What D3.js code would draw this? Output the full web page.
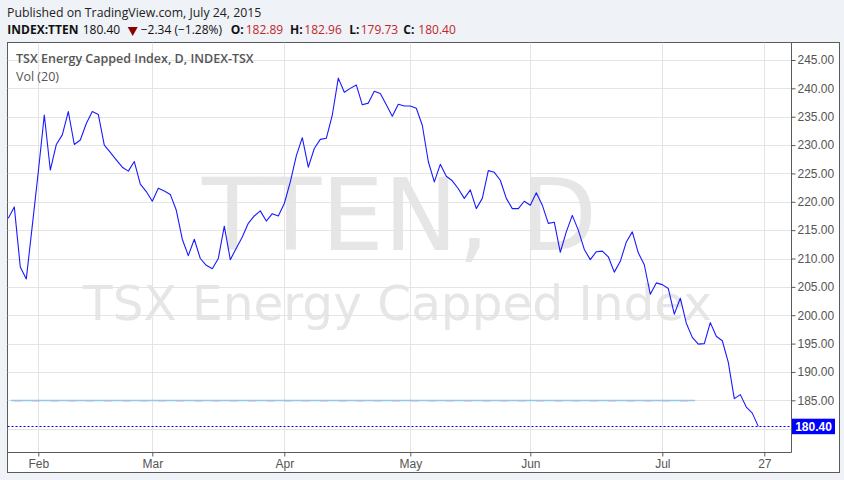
<!DOCTYPE html>
<html><head><meta charset="utf-8">
<script src="https://cdn.jsdelivr.net/npm/d3@7"></script>
<style>
html,body{margin:0;padding:0;background:#eff2f6;}
svg{display:block;}
</style></head>
<body>
<svg id="chart" width="844" height="480"></svg>
<script>
// ---- data ----
const dates = [
"2015-01-26","2015-01-27","2015-01-28","2015-01-29","2015-01-30",
"2015-02-02","2015-02-03","2015-02-04","2015-02-05","2015-02-06","2015-02-09","2015-02-10","2015-02-11","2015-02-12","2015-02-13",
"2015-02-17","2015-02-18","2015-02-19","2015-02-20","2015-02-23","2015-02-24","2015-02-25","2015-02-26","2015-02-27",
"2015-03-02","2015-03-03","2015-03-04","2015-03-05","2015-03-06","2015-03-09","2015-03-10","2015-03-11","2015-03-12","2015-03-13",
"2015-03-16","2015-03-17","2015-03-18","2015-03-19","2015-03-20","2015-03-23","2015-03-24","2015-03-25","2015-03-26","2015-03-27",
"2015-03-30","2015-03-31",
"2015-04-01","2015-04-02","2015-04-06","2015-04-07","2015-04-08","2015-04-09","2015-04-10","2015-04-13","2015-04-14","2015-04-15",
"2015-04-16","2015-04-17","2015-04-20","2015-04-21","2015-04-22","2015-04-23","2015-04-24","2015-04-27","2015-04-28","2015-04-29",
"2015-04-30",
"2015-05-01","2015-05-04","2015-05-05","2015-05-06","2015-05-07","2015-05-08","2015-05-11","2015-05-12","2015-05-13","2015-05-14",
"2015-05-15","2015-05-19","2015-05-20","2015-05-21","2015-05-22","2015-05-25","2015-05-26","2015-05-27","2015-05-28","2015-05-29",
"2015-06-01","2015-06-02","2015-06-03","2015-06-04","2015-06-05","2015-06-08","2015-06-09","2015-06-10","2015-06-11","2015-06-12",
"2015-06-15","2015-06-16","2015-06-17","2015-06-18","2015-06-19","2015-06-22","2015-06-23","2015-06-24","2015-06-25","2015-06-26",
"2015-06-29","2015-06-30",
"2015-07-02","2015-07-03","2015-07-06","2015-07-07","2015-07-08","2015-07-09","2015-07-10","2015-07-13","2015-07-14","2015-07-15",
"2015-07-16","2015-07-17","2015-07-20","2015-07-21","2015-07-22","2015-07-23","2015-07-24"
];
const closes = [
217.1,219.1,208.5,206.4,215.8,
225.3,235.3,225.6,230.1,231.8,235.9,230.1,230.9,233.8,235.9,
235.4,230.0,228.7,227.4,226.1,225.4,227.1,223.1,221.8,
220.1,222.4,221.9,221.3,218.5,213.4,210.5,213.4,210.0,208.8,
208.2,210.0,215.7,209.8,211.8,213.8,216.2,217.5,218.4,216.6,
217.9,217.5,
219.7,223.5,228.1,231.3,226.1,229.4,231.0,231.2,235.3,241.8,
239.3,240.0,240.6,237.1,237.4,239.5,239.1,237.1,235.1,237.2,
236.9,
236.9,236.5,233.5,227.1,223.5,226.6,224.5,223.7,222.3,220.6,
222.1,218.8,220.6,225.5,225.2,223.8,220.6,218.8,218.8,220.1,
219.4,221.6,219.4,216.2,216.4,211.1,214.7,217.6,215.0,211.6,
209.8,211.2,211.3,210.3,207.6,209.5,212.9,214.7,211.0,208.9,
203.7,205.7,
205.4,204.7,200.2,203.0,198.6,196.1,194.9,195.0,198.7,196.3,
195.5,191.7,185.3,186.0,183.8,182.74,180.40
];
const nextSession = "2015-07-27";
const xTickDates  = ["2015-02-02","2015-03-02","2015-04-01","2015-05-01","2015-06-01","2015-07-02","2015-07-27"];
const xTickLabels = ["Feb","Mar","Apr","May","Jun","Jul","27"];
const yTicks = [180,185,190,195,200,205,210,215,220,225,230,235,240,245];
const volLine = {value: 185.0, from: "2015-01-26", to: "2015-07-09"};
const lastPrice = 180.40;
const headerLine1 = "Published on TradingView.com, July 24, 2015";
const quote = {symbol:"INDEX:TTEN", last:"180.40", change:"\u22122.34 (\u22121.28%)", O:"182.89", H:"182.96", L:"179.73", C:"180.40"};
const legendTitle = "TSX Energy Capped Index, D, INDEX-TSX";
const legendSub = "Vol (20)";
const wm1 = "TTEN, D", wm2 = "TSX Energy Capped Index";

// ---- layout ----
const plot = {left:7.5, top:42.5, right:791.5, bottom:452.5};
const frame = {left:7.5, top:42.5, right:839.5, bottom:472.5};

const svg = d3.select("#chart");
svg.append("rect").attr("x",0).attr("y",0).attr("width",844).attr("height",480).attr("fill","#eff2f6");
svg.append("rect").attr("x",frame.left).attr("y",frame.top)
  .attr("width",frame.right-frame.left).attr("height",frame.bottom-frame.top)
  .attr("fill","#ffffff").attr("stroke","#5b5b5b").attr("stroke-width",1);

const x = d3.scalePoint().domain(dates.concat([nextSession])).range([8.3, 8.3 + 6*dates.length]);
const y = d3.scaleLinear().domain([185,245]).range([400.3,60.0]);

svg.append("defs").append("clipPath").attr("id","clip")
  .append("rect").attr("x",plot.left).attr("y",plot.top)
  .attr("width",plot.right-plot.left).attr("height",plot.bottom-plot.top);

const g = svg.append("g").attr("clip-path","url(#clip)");
const cx = (plot.left+plot.right)/2;

// watermark
g.append("text").attr("x",cx).attr("y",250).attr("text-anchor","middle")
  .attr("font-family","DejaVu Sans").attr("font-size",99).attr("fill","#e6e6e6").text(wm1);
g.append("text").attr("x",cx-2).attr("y",320).attr("text-anchor","middle")
  .attr("font-family","DejaVu Sans").attr("font-size",48.5).attr("fill","#e6e6e6").text(wm2);

// grid
g.selectAll("line.hg").data(yTicks).join("line").attr("class","hg")
  .attr("x1",plot.left).attr("x2",plot.right)
  .attr("y1",d=>Math.round(y(d))+0.5).attr("y2",d=>Math.round(y(d))+0.5)
  .attr("stroke","#e4e4e4").attr("stroke-width",1);
g.selectAll("line.vg").data(xTickDates).join("line").attr("class","vg")
  .attr("y1",plot.top).attr("y2",plot.bottom)
  .attr("x1",d=>Math.round(x(d))+0.5).attr("x2",d=>Math.round(x(d))+0.5)
  .attr("stroke","#e4e4e4").attr("stroke-width",1);

// volume line
const vy = Math.round(y(volLine.value))+0.5;
g.append("line").attr("x1",x(volLine.from)+2.7).attr("x2",x(volLine.to)+2.7).attr("y1",vy).attr("y2",vy)
  .attr("stroke","#8fc8e8").attr("stroke-width",1.3);
g.append("line").attr("x1",x(volLine.from)+6).attr("x2",x(volLine.to)).attr("y1",vy+1).attr("y2",vy+1)
  .attr("stroke","#f0b8c8").attr("stroke-width",1).attr("stroke-dasharray","8,10").attr("opacity",0.6);

// last price dotted line
const ly = Math.round(y(lastPrice))+0.5;
g.append("line").attr("x1",plot.left).attr("x2",plot.right).attr("y1",ly).attr("y2",ly)
  .attr("stroke","#0000ff").attr("stroke-width",1).attr("stroke-dasharray","2,2");

// price line
const line = d3.line().x((d,i)=>x(dates[i])).y(d=>y(d));
g.append("path").datum(closes).attr("d",line).attr("fill","none")
  .attr("stroke","#1a1aff").attr("stroke-width",1.1).attr("stroke-linejoin","round");

// axes
svg.append("line").attr("x1",plot.right).attr("x2",plot.right).attr("y1",plot.top).attr("y2",plot.bottom)
  .attr("stroke","#5b5b5b");
svg.append("line").attr("x1",plot.left).attr("x2",plot.right).attr("y1",plot.bottom).attr("y2",plot.bottom)
  .attr("stroke","#5b5b5b");

const yAxis = d3.axisRight(y).tickValues(yTicks.filter(d=>d>=185)).tickSize(4).tickFormat(d3.format(".2f"));
const ya = svg.append("g").attr("transform",`translate(${plot.right},0)`).call(yAxis);
ya.select(".domain").remove();
ya.selectAll(".tick line").attr("stroke","#5b5b5b");
ya.selectAll(".tick text").attr("x",6).attr("fill","#555").attr("font-family","Liberation Sans, Arial").attr("font-size",12);

const xAxis = d3.axisBottom(x).tickValues(xTickDates).tickSize(4).tickFormat((d,i)=>xTickLabels[i]);
const xa = svg.append("g").attr("transform",`translate(0,${plot.bottom})`).call(xAxis);
xa.select(".domain").remove();
xa.selectAll(".tick line").attr("stroke","#5b5b5b");
xa.selectAll(".tick text").attr("y",7).attr("fill","#555").attr("font-family","Liberation Sans, Arial").attr("font-size",12);

// last price label
svg.append("rect").attr("x",plot.right+0.5).attr("y",ly-7.8).attr("width",43).attr("height",15.5).attr("fill","#0000ff");
svg.append("text").attr("x",plot.right+22).attr("y",ly+4.5).attr("text-anchor","middle")
  .attr("font-family","Liberation Sans, Arial").attr("font-weight","bold").attr("font-size",12)
  .attr("fill","#ffffff").text(d3.format(".2f")(lastPrice));

// legend
svg.append("text").attr("x",16).attr("y",63).attr("font-family","Open Sans").attr("font-weight",600)
  .attr("font-size",12.5).attr("fill","#555").text(legendTitle);
svg.append("text").attr("x",16).attr("y",81).attr("font-family","Open Sans")
  .attr("font-size",12.5).attr("fill","#555").text(legendSub);

// header
svg.append("text").attr("x",7).attr("y",17).attr("font-family","Open Sans").attr("font-size",12.3)
  .attr("fill","#222").text(headerLine1);
// down triangle
svg.append("path").attr("d","M127.7,27 L137.7,27 L132.7,36 Z").attr("fill","#8b0000");
const h2 = svg.append("text").attr("y",34).attr("font-family","Open Sans").attr("font-size",12).attr("fill","#111");
const red = "#c0262b";
const parts = [
  {t:quote.symbol, x:7.3,   w:"bold"},
  {t:quote.last,   x:82.7},
  {t:quote.change, x:140.7},
  {t:"O:",         x:230.7, w:"bold"},
  {t:quote.O,      x:245.7, c:red},
  {t:"H:",         x:290,   w:"bold"},
  {t:quote.H,      x:304.3, c:red},
  {t:"L:",         x:349.3, w:"bold"},
  {t:quote.L,      x:360.7, c:red},
  {t:"C:",         x:403.3, w:"bold"},
  {t:quote.C,      x:418.3, c:red}
];
parts.forEach(p=>{
  const ts = h2.append("tspan").attr("x",p.x).text(p.t);
  if(p.w) ts.attr("font-weight",p.w);
  if(p.c) ts.attr("fill",p.c);
});
</script>
</body></html>
